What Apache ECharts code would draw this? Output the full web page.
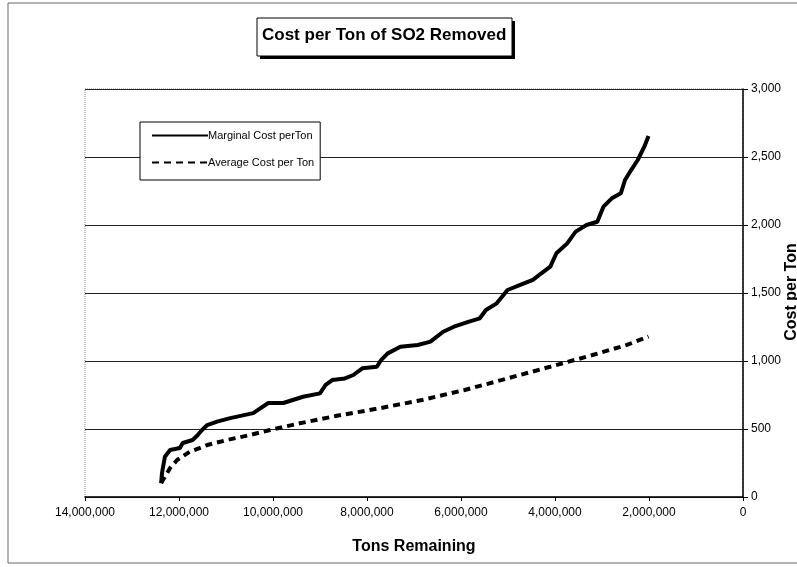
<!DOCTYPE html>
<html>
<head>
<meta charset="utf-8">
<script src="https://cdn.jsdelivr.net/npm/echarts@6/dist/echarts.min.js"></script>
<style>html,body{margin:0;padding:0;background:#fff}#c{width:797px;height:567px}</style>
</head>
<body>
<div id="c"></div>
<script>
// ---- data (tons remaining, cost per ton) ----
const marginalTons = [12380000,12360000,12300000,12190000,11980000,11920000,11710000,11600000,11510000,11400000,11190000,10910000,10420000,10320000,10100000,9780000,9360000,9000000,8880000,8740000,8470000,8290000,8100000,7790000,7700000,7560000,7290000,6920000,6650000,6380000,6150000,5830000,5600000,5470000,5240000,5010000,4740000,4470000,4290000,4100000,3970000,3740000,3560000,3330000,3100000,2970000,2790000,2600000,2510000,2380000,2240000,2100000,2010000];
const marginalCost = [101,180,296,345,360,397,419,456,493,529,554,580,617,640,691,691,737,762,824,860,872,897,946,958,1007,1056,1105,1118,1142,1215,1252,1289,1314,1375,1424,1522,1559,1596,1645,1694,1792,1865,1951,2000,2024,2135,2196,2233,2331,2404,2478,2576,2654];
const averageTons = [12380000,12190000,12040000,11770000,11400000,10980000,10490000,10060000,9430000,8640000,7740000,6830000,5920000,5010000,4100000,3200000,2470000,2010000];
const averageCost = [103,213,272,333,382,419,456,493,542,597,652,713,787,872,958,1044,1118,1180];
const xTicks = [0,2000000,4000000,6000000,8000000,10000000,12000000,14000000];
const yTicks = [0,500,1000,1500,2000,2500,3000];
const seriesNames = ['Marginal Cost perTon','Average Cost per Ton'];
const titleText = 'Cost per Ton of SO2 Removed';
const xAxisTitle = 'Tons Remaining';
const yAxisTitle = 'Cost per Ton';

const fmt = v => Math.round(v).toLocaleString('en-US');
const F = "'Liberation Sans', Arial, sans-serif";

const chart = echarts.init(document.getElementById('c'), null, {renderer:'canvas'});
chart.setOption({
  animation: false,
  backgroundColor: '#fff',
  title: {
    text: titleText,
    left: 262, top: 27,
    padding: 0, z: 10,
    textStyle: {fontFamily: F, fontWeight: 'bold', fontSize: 17, color: '#000'}
  },
  legend: {
    orient: 'vertical',
    left: 140, top: 122,
    padding: [8, 6, 12, 11],
    itemGap: 16,
    itemWidth: 56, itemHeight: 10,
    borderColor: '#000', borderWidth: 1,
    backgroundColor: '#fff',
    itemStyle: {color: 'rgba(0,0,0,0)', borderWidth: 0, opacity: 0},
    textStyle: {fontFamily: F, fontSize: 11, color: '#000', padding: [0,0,0,-5]},
    data: seriesNames
  },
  grid: {left: 85, right: 54, top: 89, bottom: 70, outerBoundsMode: 'none', containLabel: false,
         show: true, borderColor: '#888', borderWidth: 1, borderType: 'dotted'},
  xAxis: {
    type: 'value', inverse: true,
    min: xTicks[0], max: xTicks[xTicks.length-1], interval: 2000000,
    name: xAxisTitle, nameLocation: 'middle', nameGap: 42,
    nameTextStyle: {fontFamily: F, fontWeight: 'bold', fontSize: 16, color: '#000'},
    axisLine: {lineStyle: {color: '#000', width: 1.5}},
    axisTick: {show: true, length: 4, lineStyle: {color: '#000'}},
    axisLabel: {fontFamily: F, fontSize: 12, color: '#000', margin: 10, formatter: fmt},
    splitLine: {show: false}
  },
  yAxis: {
    type: 'value', position: 'right',
    min: yTicks[0], max: yTicks[yTicks.length-1], interval: 500,
    axisLine: {show: true, lineStyle: {color: '#000', width: 1.5}},
    axisTick: {show: true, inside: false, length: 5, lineStyle: {color: '#000'}},
    axisLabel: {fontFamily: F, fontSize: 12, color: '#000', margin: 8, formatter: fmt},
    splitLine: {show: true, lineStyle: {color: '#222', width: 1}}
  },
  graphic: [
    {type: 'rect', silent: true, z: -1, shape: {x: 8, y: 3, width: 800, height: 560},
     style: {fill: 'none', stroke: '#666', lineWidth: 1}},
    {type: 'rect', silent: true, z: 0, shape: {x: 260, y: 21, width: 255, height: 38},
     style: {fill: '#000'}},
    {type: 'rect', silent: true, z: 1, shape: {x: 257, y: 18, width: 255, height: 38},
     style: {fill: '#fff', stroke: '#000', lineWidth: 1}},
    {type: 'text', silent: true, z: 5, x: 792, y: 292, rotation: Math.PI / 2,
     style: {text: yAxisTitle, fontFamily: F, fontWeight: 'bold', fontSize: 16, fill: '#000',
             align: 'center', verticalAlign: 'middle'}}
  ],
  series: [
    {
      name: seriesNames[0], type: 'line', symbol: 'none',
      data: marginalTons.map((t,i)=>[t, marginalCost[i]]),
      lineStyle: {color: '#000', width: 4},
      itemStyle: {color: '#000'}
    },
    {
      name: seriesNames[1], type: 'line', symbol: 'none',
      data: averageTons.map((t,i)=>[t, averageCost[i]]),
      lineStyle: {color: '#000', width: 4, type: [7, 5]},
      itemStyle: {color: '#000'}
    }
  ]
});
</script>
</body>
</html>
